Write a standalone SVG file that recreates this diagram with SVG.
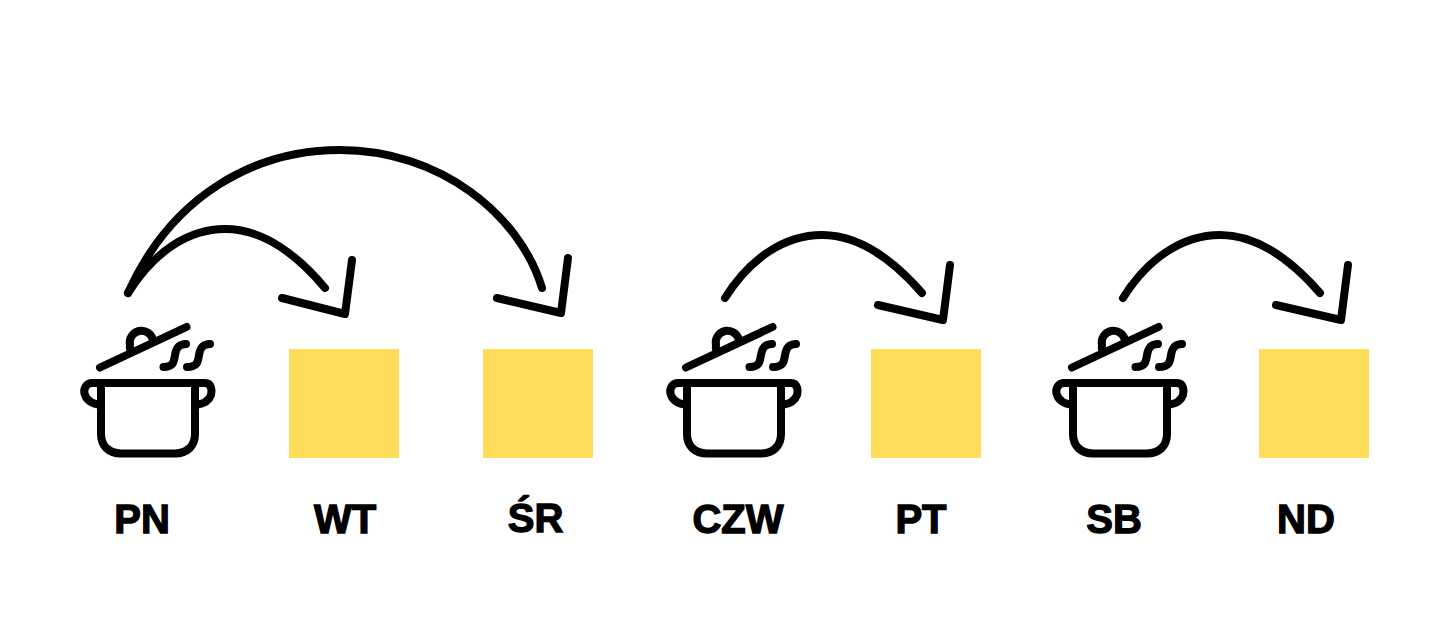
<svg xmlns="http://www.w3.org/2000/svg" width="1451" height="635" viewBox="0 0 1451 635">
<style>
.l{fill:none;stroke:#000;stroke-width:8;stroke-linecap:round;stroke-linejoin:round}
.a{fill:none;stroke:#000;stroke-width:8;stroke-linecap:round;stroke-linejoin:round}
.b{fill:#FFDC5A}
.t{font-family:"Liberation Sans",Arial,sans-serif;font-weight:700;font-size:40px;fill:#000;text-anchor:middle;stroke:#000;stroke-width:1.3}
</style>
<defs>
<g id="pot">
<path class="l" d="M100 367.5L186.500 327"/>
<path class="l" d="M130 349A11.500 11.500 0 0 1 130 345A11.500 11.500 0 0 1 153 340"/>
<path class="l" d="M163.500 367C174 367 174 361 175 355C176 349 178 344 186 344"/>
<path class="l" d="M187 367C198 367 198 361 199 355C200 349 202 344 210 344"/>
<path class="l" d="M92 383H205C212 383 212 391 211 395C209 401 203 404 196 405"/>
<path class="l" d="M92 383C85 383 83 391 85 395C87 401 93 404 101 405"/>
<path class="l" d="M101 383V434C101 446 109 453.500 121 453.500H175C187 453.500 195 446 195 434V383"/>
</g>
</defs>
<rect width="1451" height="635" fill="#fff"/>
<g id="connectors">
<path class="a" d="M128 293C172 195 255 150 340 150C440 150 520 215 542 288"/>
<path class="a" d="M128 293C155 250 190 229 225 229C265 229 300 258 325 288"/>
<path class="a" d="M282 298L345 314L352 260"/>
<path class="a" d="M497 298L561 313L568 258"/>
<path class="a" d="M725 298C750 258 785 235 822 235C862 235 895 262 922 293"/>
<path class="a" d="M878 305L943 320L950 265"/>
<path class="a" d="M1123 298C1148 258 1183 235 1220 235C1260 235 1293 262 1320 293"/>
<path class="a" d="M1276 305L1341 320L1348 265"/>
</g>
<g id="node-pn"><use href="#pot"/><text class="t" x="142" y="533">PN</text></g>
<g id="node-wt"><rect class="b" x="289" y="349" width="110" height="109"/><text class="t" x="345" y="533">WT</text></g>
<g id="node-sr"><rect class="b" x="483" y="349" width="110" height="109"/><text class="t" x="535.500" y="532">ŚR</text></g>
<g id="node-czw"><use href="#pot" x="586"/><text class="t" x="738" y="533">CZW</text></g>
<g id="node-pt"><rect class="b" x="871" y="349" width="110" height="109"/><text class="t" x="921" y="533">PT</text></g>
<g id="node-sb"><use href="#pot" x="972"/><text class="t" x="1114" y="533">SB</text></g>
<g id="node-nd"><rect class="b" x="1259" y="349" width="110" height="109"/><text class="t" x="1306" y="533">ND</text></g>
</svg>
